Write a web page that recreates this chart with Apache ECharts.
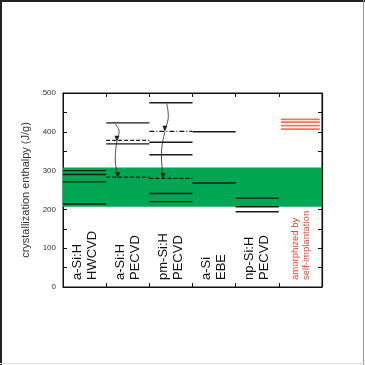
<!DOCTYPE html>
<html><head><meta charset="utf-8">
<script src="https://cdn.jsdelivr.net/npm/echarts@6/dist/echarts.min.js"></script>
<style>html,body{margin:0;padding:0;background:#fff}#c{width:365px;height:365px}</style>
</head><body><div id="c"></div>
<script>
// ---- data ----
const categories = ['a-Si:H\nHWCVD', 'a-Si:H\nPECVD', 'pm-Si:H\nPECVD', 'a-Si\nEBE', 'np-Si:H\nPECVD', 'amorphized by\nself-implantation'];
const yTicks = [0, 100, 200, 300, 400, 500];
const bandRange = [207, 308];
const solidLevels = [
  [300, 290, 271, 214],
  [423, 369],
  [475, 373, 341, 241, 220],
  [400, 268],
  [229, 207, 194],
  []
];
const dashedLevels = [[], [378, 283], [280], [], [], []];
const dashDotLevels = [[], [], [401], [], [], []];
const implantLevels = [432, 425, 416, 407]; // category 6
const implantSpan = [5.05, 5.95];
// arrows: start, bend, end points [category position, value]
const arrows = [
  [[1.20, 421], [1.30, 400], [1.25, 382]],
  [[1.25, 376], [1.21, 330], [1.27, 288]],
  [[2.40, 473], [2.44, 440], [2.36, 408]],
  [[2.36, 399], [2.28, 340], [2.32, 286]]
];
const xMax = 6, yMax = 500;

const toLineData = (levels) => {
  const out = [];
  levels.forEach((arr, i) => arr.forEach(v => { out.push([i, v], [i + 1, v], ['-', '-']); }));
  return out;
};
const implantData = [];
implantLevels.forEach(v => implantData.push([implantSpan[0], v], [implantSpan[1], v], ['-', '-']));
const arrowData = [];
arrows.forEach(a => {
  arrowData.push(a[0], a[1], {value: a[2], symbol: 'triangle', symbolRotate: 180, symbolSize: [5, 6]}, ['-', '-']);
});

const chart = echarts.init(document.getElementById('c'), null, {renderer: 'canvas'});
const FONT = 'Liberation Sans, Arial, sans-serif';
const yCommon = {
  type: 'value', min: 0, max: yMax, interval: 50,
  axisLine: {show: true, onZero: false, lineStyle: {color: '#111', width: 1}},
  axisTick: {show: true, inside: true, length: 4, lineStyle: {color: '#111'}},
  splitLine: {show: false}
};
const lineBase = {type: 'line', xAxisIndex: 1, yAxisIndex: 0, symbol: 'none', showSymbol: true,
  connectNulls: false, silent: true, z: 3, animation: false};
chart.setOption({
  animation: false,
  grid: {left: 63, right: 43, top: 93, bottom: 78, show: true, borderColor: '#111', borderWidth: 1},
  xAxis: [
    {type: 'category', data: categories.map((c, i) => i === 5 ? {value: c, textStyle: {color: '#e8452c', fontSize: 9.5, lineHeight: 11}} : c),
     position: 'bottom', boundaryGap: true,
     axisLine: {show: true, onZero: false, lineStyle: {color: '#111', width: 1}},
     axisTick: {show: true, inside: true, length: 4, interval: 0, lineStyle: {color: '#111'}},
     splitLine: {show: false},
     axisLabel: {inside: true, rotate: 90, interval: 0, margin: 7, fontFamily: FONT, fontSize: 13, lineHeight: 15, color: '#111'}},
    {type: 'value', min: 0, max: xMax, interval: 1, position: 'top',
     axisLine: {show: true, onZero: false, lineStyle: {color: '#111', width: 1}},
     axisTick: {show: true, inside: true, length: 4, lineStyle: {color: '#111'}},
     axisLabel: {show: false}, splitLine: {show: false}}
  ],
  yAxis: [
    Object.assign({}, yCommon, {position: 'left',
      name: 'crystallization enthalpy (J/g)', nameLocation: 'middle', nameGap: 22,
      nameTextStyle: {fontFamily: FONT, fontSize: 11, color: '#333'},
      axisLabel: {show: true, fontSize: 8, color: '#333', margin: 7, fontFamily: FONT,
        formatter: v => (yTicks.indexOf(v) >= 0 ? String(v) : '')}}),
    Object.assign({}, yCommon, {position: 'right', axisLabel: {show: false}})
  ],
  graphic: [
    {type: 'rect', shape: {x: 0, y: 0, width: 365, height: 2}, style: {fill: '#222'}},
    {type: 'rect', shape: {x: 0, y: 0, width: 2, height: 365}, style: {fill: '#222'}},
    {type: 'rect', shape: {x: 363, y: 0, width: 1, height: 365}, style: {fill: '#999'}},
    {type: 'rect', shape: {x: 0, y: 363, width: 365, height: 1}, style: {fill: '#ddd'}}
  ],
  series: [
    {type: 'line', xAxisIndex: 1, yAxisIndex: 0, data: [], z: 1, silent: true, clip: false,
     markArea: {silent: true, itemStyle: {color: '#00a651', opacity: 1},
       data: [[{coord: [0, bandRange[0]]}, {coord: [xMax, bandRange[1]]}]]},
     markLine: {silent: true, symbol: 'none', label: {show: false},
       lineStyle: {color: '#111', width: 1.2, type: 'solid'},
       data: [{yAxis: yMax}, {xAxis: xMax}]}},
    Object.assign({}, lineBase, {data: toLineData(solidLevels), lineStyle: {color: '#1a1a1a', width: 1.4, type: 'solid'}}),
    Object.assign({}, lineBase, {data: toLineData(dashedLevels), lineStyle: {color: '#1a1a1a', width: 1.2, type: [4, 2]}}),
    Object.assign({}, lineBase, {data: toLineData(dashDotLevels), lineStyle: {color: '#1a1a1a', width: 1.2, type: [5, 2, 1, 2]}}),
    Object.assign({}, lineBase, {yAxisIndex: 1, data: implantData, lineStyle: {color: '#f0785a', width: 1.6, type: 'solid'}}),
    Object.assign({}, lineBase, {data: arrowData, smooth: true, itemStyle: {color: '#222'},
      lineStyle: {color: '#222', width: 0.8, type: 'solid'}})
  ]
});
</script></body></html>
